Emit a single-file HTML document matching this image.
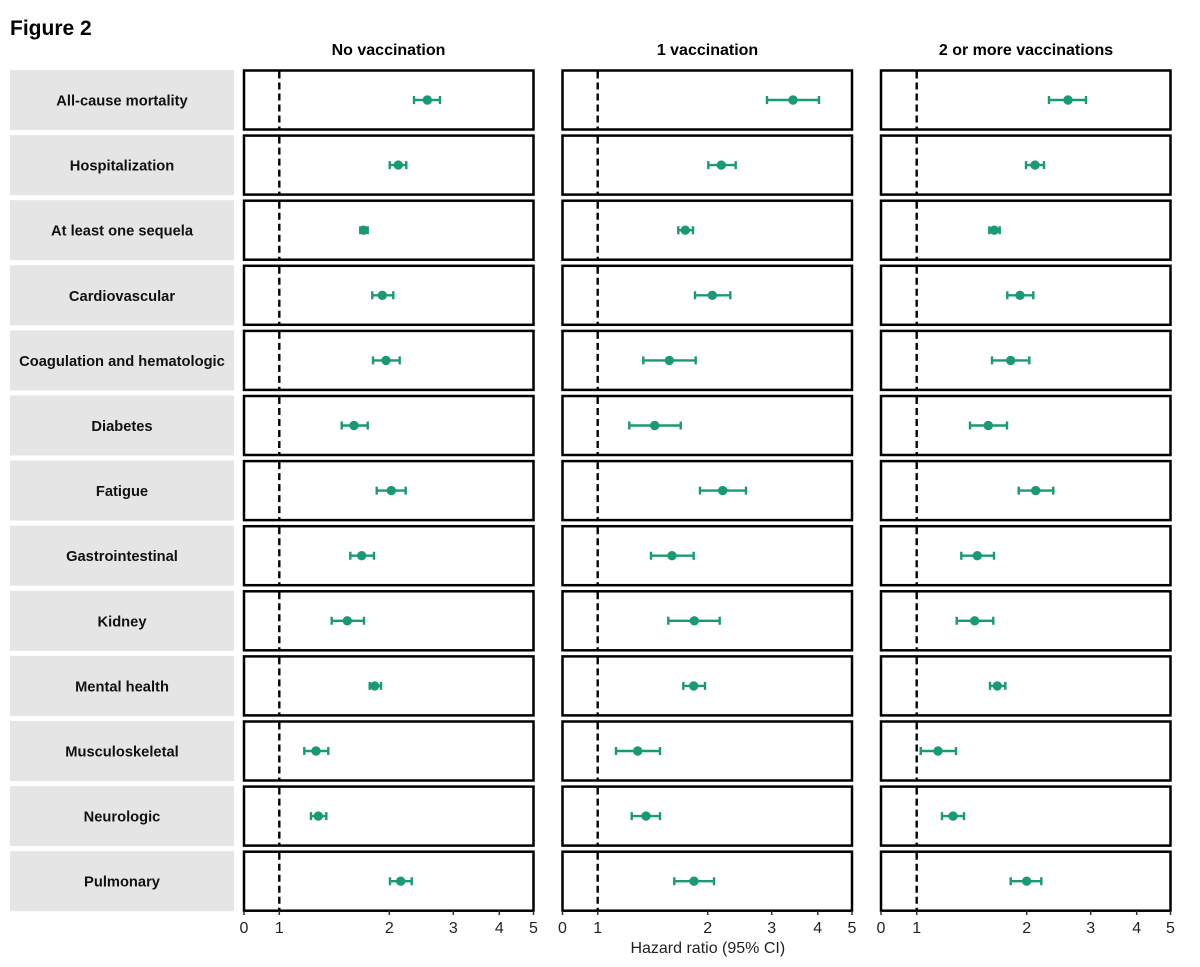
<!DOCTYPE html>
<html><head><meta charset="utf-8"><style>
html,body{margin:0;padding:0;background:#fff;}
svg{display:block;}
text{font-family:"Liberation Sans",Arial,sans-serif;}
.lab{font-size:14.7px;font-weight:bold;fill:#111;text-anchor:middle;}
.box{fill:#fff;stroke:#000;stroke-width:2.5;}
.dash{stroke:#000;stroke-width:2.4;stroke-dasharray:7,4;}
.eb{stroke:#1a9a74;stroke-width:2.4;fill:none;}
.pt{fill:#1a9a74;}
.tk{font-size:16px;fill:#222;text-anchor:middle;}
</style></head><body>
<svg width="1200" height="967" viewBox="0 0 1200 967" xmlns="http://www.w3.org/2000/svg">
<rect width="1200" height="967" fill="#fff"/>
<text x="10" y="35" font-size="21" font-weight="bold" fill="#000">Figure 2</text>
<text x="388.5" y="55" font-size="16" font-weight="bold" text-anchor="middle" fill="#000">No vaccination</text>
<text x="707.5" y="55" font-size="16" font-weight="bold" text-anchor="middle" fill="#000">1 vaccination</text>
<text x="1026" y="55" font-size="16" font-weight="bold" text-anchor="middle" fill="#000">2 or more vaccinations</text>

<defs>
<g id="row">
<rect x="10" y="-30" width="224" height="60" fill="#e5e5e5"/>
<rect class="box" x="244" y="-29.5" width="289.5" height="59"/>
<rect class="box" x="562.5" y="-29.5" width="289.5" height="59"/>
<rect class="box" x="881" y="-29.5" width="289.5" height="59"/>
<line class="dash" x1="279.3" y1="-28.5" x2="279.3" y2="29"/>
<line class="dash" x1="597.7" y1="-28.5" x2="597.7" y2="29"/>
<line class="dash" x1="916.7" y1="-28.5" x2="916.7" y2="29"/>
</g>
</defs>

<!-- Row 1 -->
<g transform="translate(0,100)">
<use href="#row"/>
<text class="lab" x="122" y="5.5">All-cause mortality</text>
<path class="eb" d="M414 0H440M414 -4V4M440 -4V4"/><circle class="pt" cx="427.3" cy="0" r="4.7"/>
<path class="eb" d="M767 0H819M767 -4V4M819 -4V4"/><circle class="pt" cx="793" cy="0" r="4.7"/>
<path class="eb" d="M1049 0H1086M1049 -4V4M1086 -4V4"/><circle class="pt" cx="1068" cy="0" r="4.7"/>
</g>
<!-- Row 2 -->
<g transform="translate(0,165.1)">
<use href="#row"/>
<text class="lab" x="122" y="5.5">Hospitalization</text>
<path class="eb" d="M389.7 0H406.3M389.7 -4V4M406.3 -4V4"/><circle class="pt" cx="398.3" cy="0" r="4.7"/>
<path class="eb" d="M708.3 0H735.7M708.3 -4V4M735.7 -4V4"/><circle class="pt" cx="721.3" cy="0" r="4.7"/>
<path class="eb" d="M1026 0H1044M1026 -4V4M1044 -4V4"/><circle class="pt" cx="1035" cy="0" r="4.7"/>
</g>
<!-- Row 3 -->
<g transform="translate(0,230.2)">
<use href="#row"/>
<text class="lab" x="122" y="5.5">At least one sequela</text>
<path class="eb" d="M360.3 0H367.7M360.3 -4V4M367.7 -4V4"/><circle class="pt" cx="363.7" cy="0" r="4.7"/>
<path class="eb" d="M678.3 0H693M678.3 -4V4M693 -4V4"/><circle class="pt" cx="685.3" cy="0" r="4.7"/>
<path class="eb" d="M989.3 0H999.7M989.3 -4V4M999.7 -4V4"/><circle class="pt" cx="994.3" cy="0" r="4.7"/>
</g>
<!-- Row 4 -->
<g transform="translate(0,295.3)">
<use href="#row"/>
<text class="lab" x="122" y="5.5">Cardiovascular</text>
<path class="eb" d="M372.3 0H393.3M372.3 -4V4M393.3 -4V4"/><circle class="pt" cx="382.3" cy="0" r="4.7"/>
<path class="eb" d="M695 0H730.3M695 -4V4M730.3 -4V4"/><circle class="pt" cx="712.3" cy="0" r="4.7"/>
<path class="eb" d="M1007.3 0H1033.3M1007.3 -4V4M1033.3 -4V4"/><circle class="pt" cx="1020" cy="0" r="4.7"/>
</g>
<!-- Row 5 -->
<g transform="translate(0,360.4)">
<use href="#row"/>
<text class="lab" x="122" y="5.5">Coagulation and hematologic</text>
<path class="eb" d="M373 0H399.7M373 -4V4M399.7 -4V4"/><circle class="pt" cx="386" cy="0" r="4.7"/>
<path class="eb" d="M643.3 0H695.7M643.3 -4V4M695.7 -4V4"/><circle class="pt" cx="669.3" cy="0" r="4.7"/>
<path class="eb" d="M992 0H1029.3M992 -4V4M1029.3 -4V4"/><circle class="pt" cx="1010.7" cy="0" r="4.7"/>
</g>
<!-- Row 6 -->
<g transform="translate(0,425.5)">
<use href="#row"/>
<text class="lab" x="122" y="5.5">Diabetes</text>
<path class="eb" d="M341.7 0H367.7M341.7 -4V4M367.7 -4V4"/><circle class="pt" cx="354" cy="0" r="4.7"/>
<path class="eb" d="M629.3 0H680.7M629.3 -4V4M680.7 -4V4"/><circle class="pt" cx="654.7" cy="0" r="4.7"/>
<path class="eb" d="M970 0H1007M970 -4V4M1007 -4V4"/><circle class="pt" cx="988.3" cy="0" r="4.7"/>
</g>
<!-- Row 7 -->
<g transform="translate(0,490.6)">
<use href="#row"/>
<text class="lab" x="122" y="5.5">Fatigue</text>
<path class="eb" d="M376.7 0H405.7M376.7 -4V4M405.7 -4V4"/><circle class="pt" cx="391.3" cy="0" r="4.7"/>
<path class="eb" d="M700 0H746M700 -4V4M746 -4V4"/><circle class="pt" cx="722.7" cy="0" r="4.7"/>
<path class="eb" d="M1018.7 0H1053.3M1018.7 -4V4M1053.3 -4V4"/><circle class="pt" cx="1035.7" cy="0" r="4.7"/>
</g>
<!-- Row 8 -->
<g transform="translate(0,555.7)">
<use href="#row"/>
<text class="lab" x="122" y="5.5">Gastrointestinal</text>
<path class="eb" d="M350.3 0H374M350.3 -4V4M374 -4V4"/><circle class="pt" cx="361.7" cy="0" r="4.7"/>
<path class="eb" d="M651 0H693.7M651 -4V4M693.7 -4V4"/><circle class="pt" cx="672" cy="0" r="4.7"/>
<path class="eb" d="M961.3 0H994M961.3 -4V4M994 -4V4"/><circle class="pt" cx="977.3" cy="0" r="4.7"/>
</g>
<!-- Row 9 -->
<g transform="translate(0,620.8)">
<use href="#row"/>
<text class="lab" x="122" y="5.5">Kidney</text>
<path class="eb" d="M331.7 0H364M331.7 -4V4M364 -4V4"/><circle class="pt" cx="347.3" cy="0" r="4.7"/>
<path class="eb" d="M668.3 0H719.7M668.3 -4V4M719.7 -4V4"/><circle class="pt" cx="694.3" cy="0" r="4.7"/>
<path class="eb" d="M956.7 0H993.3M956.7 -4V4M993.3 -4V4"/><circle class="pt" cx="974.7" cy="0" r="4.7"/>
</g>
<!-- Row 10 -->
<g transform="translate(0,685.9)">
<use href="#row"/>
<text class="lab" x="122" y="5.5">Mental health</text>
<path class="eb" d="M369.7 0H381M369.7 -4V4M381 -4V4"/><circle class="pt" cx="374.7" cy="0" r="4.7"/>
<path class="eb" d="M683.3 0H705M683.3 -4V4M705 -4V4"/><circle class="pt" cx="693.7" cy="0" r="4.7"/>
<path class="eb" d="M990 0H1005.3M990 -4V4M1005.3 -4V4"/><circle class="pt" cx="997.3" cy="0" r="4.7"/>
</g>
<!-- Row 11 -->
<g transform="translate(0,751)">
<use href="#row"/>
<text class="lab" x="122" y="5.5">Musculoskeletal</text>
<path class="eb" d="M304.3 0H328.3M304.3 -4V4M328.3 -4V4"/><circle class="pt" cx="316" cy="0" r="4.7"/>
<path class="eb" d="M616 0H660M616 -4V4M660 -4V4"/><circle class="pt" cx="637.7" cy="0" r="4.7"/>
<path class="eb" d="M920.7 0H956M920.7 -4V4M956 -4V4"/><circle class="pt" cx="938" cy="0" r="4.7"/>
</g>
<!-- Row 12 -->
<g transform="translate(0,816.1)">
<use href="#row"/>
<text class="lab" x="122" y="5.5">Neurologic</text>
<path class="eb" d="M311 0H326.3M311 -4V4M326.3 -4V4"/><circle class="pt" cx="318.3" cy="0" r="4.7"/>
<path class="eb" d="M631.7 0H660M631.7 -4V4M660 -4V4"/><circle class="pt" cx="646" cy="0" r="4.7"/>
<path class="eb" d="M942 0H964M942 -4V4M964 -4V4"/><circle class="pt" cx="953" cy="0" r="4.7"/>
</g>
<!-- Row 13 -->
<g transform="translate(0,881.2)">
<use href="#row"/>
<text class="lab" x="122" y="5.5">Pulmonary</text>
<path class="eb" d="M390 0H411.7M390 -4V4M411.7 -4V4"/><circle class="pt" cx="400.7" cy="0" r="4.7"/>
<path class="eb" d="M674.3 0H714M674.3 -4V4M714 -4V4"/><circle class="pt" cx="694" cy="0" r="4.7"/>
<path class="eb" d="M1010.7 0H1041.3M1010.7 -4V4M1041.3 -4V4"/><circle class="pt" cx="1026.7" cy="0" r="4.7"/>
</g>

<!-- x axes ticks -->
<g stroke="#333" stroke-width="1.5">
<path d="M244 911V915M279.3 911V915M389.3 911V915M453.3 911V915M499.3 911V915M533.5 911V915"/>
<path d="M562.5 911V915M597.7 911V915M707.7 911V915M771.7 911V915M817.7 911V915M852 911V915"/>
<path d="M881 911V915M916.7 911V915M1026.7 911V915M1090.7 911V915M1136.7 911V915M1170.5 911V915"/>
</g>
<g class="tk">
<text class="tk" x="244" y="933">0</text><text class="tk" x="279.3" y="933">1</text><text class="tk" x="389.3" y="933">2</text><text class="tk" x="453.3" y="933">3</text><text class="tk" x="499.3" y="933">4</text><text class="tk" x="533.5" y="933">5</text>
<text class="tk" x="562.5" y="933">0</text><text class="tk" x="597.7" y="933">1</text><text class="tk" x="707.7" y="933">2</text><text class="tk" x="771.7" y="933">3</text><text class="tk" x="817.7" y="933">4</text><text class="tk" x="852" y="933">5</text>
<text class="tk" x="881" y="933">0</text><text class="tk" x="916.7" y="933">1</text><text class="tk" x="1026.7" y="933">2</text><text class="tk" x="1090.7" y="933">3</text><text class="tk" x="1136.7" y="933">4</text><text class="tk" x="1170.5" y="933">5</text>
</g>
<text x="707.8" y="953" font-size="16" text-anchor="middle" fill="#222">Hazard ratio (95% CI)</text>
</svg>
</body></html>
